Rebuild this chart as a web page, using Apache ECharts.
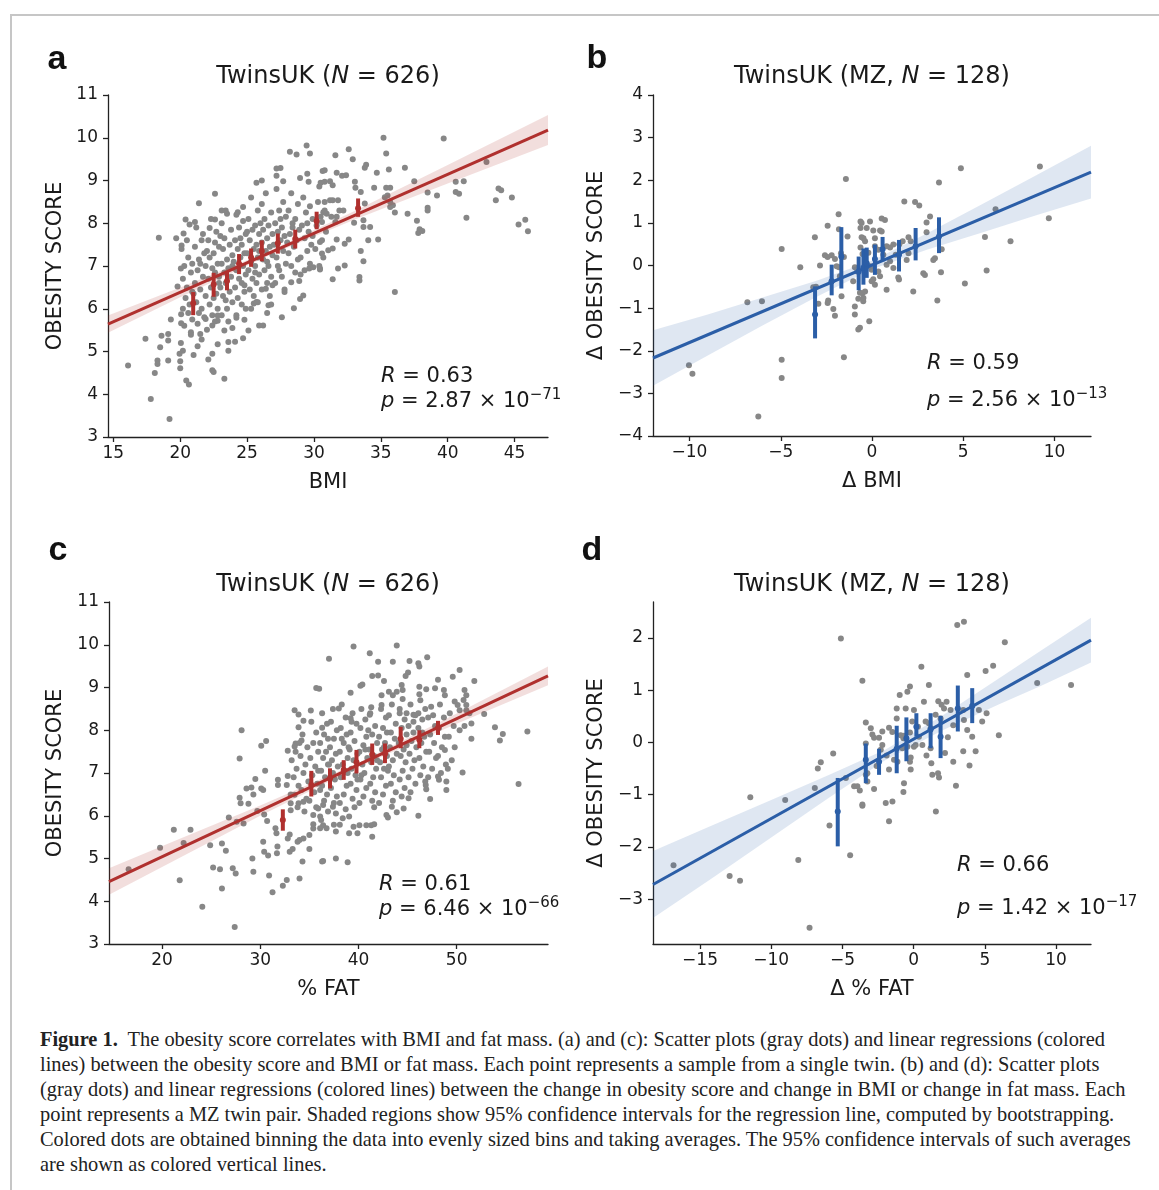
<!DOCTYPE html>
<html>
<head>
<meta charset="utf-8">
<script src="https://cdn.jsdelivr.net/npm/echarts@6/dist/echarts.min.js"></script>
<style>
  html, body { margin: 0; padding: 0; background: #fff; }
  #frame { position: absolute; left: 10px; top: 14px; width: 1149px; height: 1180px;
           border-left: 2px solid #c6c6c6; border-top: 2px solid #c6c6c6; box-sizing: border-box; }
  #chart { position: absolute; left: 0; top: 0; width: 1159px; height: 1010px; }
  #caption { position: absolute; left: 40px; top: 1027px; font-family: "Liberation Serif", serif;
             font-size: 20.4px; line-height: 25px; color: #222; }
  #caption div { white-space: nowrap; }
</style>
</head>
<body>
<div id="frame"></div>
<div id="chart"></div>
<div id="caption">
  <div><b>Figure 1.</b>&nbsp; The obesity score correlates with BMI and fat mass. (a) and (c): Scatter plots (gray dots) and linear regressions (colored</div>
  <div>lines) between the obesity score and BMI or fat mass. Each point represents a sample from a single twin. (b) and (d): Scatter plots</div>
  <div>(gray dots) and linear regressions (colored lines) between the change in obesity score and change in BMI or change in fat mass. Each</div>
  <div>point represents a MZ twin pair. Shaded regions show 95% confidence intervals for the regression line, computed by bootstrapping.</div>
  <div>Colored dots are obtained binning the data into evenly sized bins and taking averages. The 95% confidence intervals of such averages</div>
  <div>are shown as colored vertical lines.</div>
</div>
<script>
// ---------- Panel a: obesity score vs BMI ----------
const pointsA = [
[16.1,4.67],[17.8,3.89],[19.2,3.42],[17.4,5.3],[18.4,7.66],[18.1,4.5],[18.3,4.79],[18.3,4.71],[18.6,5.37],[18.5,5.1],
[19.1,5.41],[19.1,5.26],[19.1,4.79],[19.3,5.75],[19.7,7.65],[19.8,6.52],[20.0,4.77],[20.0,4.61],[19.95,4.95],[20.05,5.2],
[20.07,5.66],[20.07,5.87],[20.05,6.94],[20.2,5.02],[20.45,4.32],[20.65,4.23],[20.4,8.09],[20.25,7.76],[20.1,7.48],[20.7,7.97],
[21.1,8.03],[21.4,8.47],[21.0,4.92],[21.3,5.12],[21.5,5.41],[20.8,5.39],[21.6,5.28],[22.0,5.51],[22.1,4.81],[22.4,4.56],
[22.5,4.52],[22.4,4.95],[22.8,5.17],[23.3,4.36],[23.6,5.22],[23.6,5.02],[24.1,5.23],[22.6,8.69],[23.1,8.3],[23.5,8.22],
[22.6,8.09],[22.2,7.89],[24.3,8.26],[24.7,8.38],[25.7,8.95],[26.1,9.0],[27.2,9.28],[27.5,9.29],[27.2,9.11],[27.7,8.98],
[28.2,9.67],[28.7,9.61],[29.45,9.82],[29.7,9.63],[28.96,9.06],[29.5,9.16],[29.6,8.97],[30.65,9.22],[30.4,8.86],[29.2,6.31],
[28.96,6.23],[28.5,6.01],[27.6,5.8],[26.2,5.61],[25.9,5.61],[25.1,5.49],[24.8,5.74],[24.2,5.79],[23.9,5.55],[24.7,5.31],
[23.3,5.49],[22.8,5.84],[22.8,5.72],[22.4,5.61],[21.9,5.76],[26.5,5.9],[26.6,6.08],[26.8,6.1],[26.4,6.47],[25.5,6.12],
[25.7,6.16],[27.8,6.39],[28.3,6.62],[29.0,6.8],[29.65,6.94],[30.45,6.92],[29.95,6.97],
[35.2,10.0],[39.7,9.98],[32.6,9.73],[31.6,9.59],[32.9,9.5],[35.4,9.63],[33.9,9.37],[33.8,9.3],[30.8,9.24],[31.7,9.18],
[32.1,9.11],[32.4,9.12],[34.7,9.18],[35.6,9.26],[36.8,9.3],[37.5,8.98],[30.5,8.95],[30.8,8.97],[31.2,8.98],[42.9,9.43],
[40.6,8.97],[41.2,8.98],[40.6,8.73],[40.85,8.69],[43.8,8.81],[44.0,8.77],[43.6,8.54],[44.8,8.6],[45.3,7.97],[45.8,8.08],
[46.0,7.81],[41.4,8.13],[39.2,8.65],[38.5,8.72],[38.5,8.36],[38.5,8.3],[37.7,8.06],[37.0,8.22],[37.9,7.86],[37.8,7.77],
[38.1,7.82],[36.05,6.39],[35.4,8.83],[35.7,8.83],[35.5,8.65],[35.3,8.61],[35.7,8.5],[35.9,8.42],[35.7,8.38],[36.05,8.25],
[34.5,8.83],[33.5,8.73],[33.1,8.83],[33.06,8.97],[33.8,8.46],[33.7,8.07],[33.7,7.91],[34.2,7.91],[34.8,7.62],[34.06,7.6],
[33.5,7.35],[33.7,7.11],[33.4,6.74],[33.4,6.66],[33.0,8.01],[31.4,6.69],[31.8,6.94],[32.3,7.01],[31.07,7.37],[31.4,7.41],
[31.7,7.62],[32.3,7.52],[32.6,7.62],[32.2,8.3],[31.9,8.3],[31.7,8.15],[31.6,8.03],[30.7,8.26],[30.95,8.22],[30.6,8.03],
[31.3,8.15],[30.45,7.56],[30.6,7.29],[30.45,6.94],[31.4,8.89],[31.2,8.54],[30.8,8.5],[31.4,8.54],[31.8,8.54],
[20.1,7.4],[20.6,7.2],[20.3,7.0],[20.8,6.85],[20.2,6.7],[20.5,6.5],[20.9,6.4],[20.4,6.25],[20.7,6.1],[20.2,6.0],
[20.6,5.9],[20.9,5.75],[20.3,5.6],[20.8,5.45],[20.5,7.6],[20.9,7.05],
[21.2,7.9],[21.6,7.6],[21.1,7.45],[21.8,7.3],[21.4,7.15],[21.9,7.0],[21.3,6.9],[21.7,6.75],[21.1,6.6],[21.5,6.45],
[21.9,6.3],[21.2,6.15],[21.6,6.0],[21.4,5.9],[21.8,5.8],[21.3,5.65],[21.7,7.75],[21.5,7.05],[21.0,6.35],
[22.3,8.1],[22.7,7.8],[22.1,7.6],[22.9,7.45],[22.5,7.3],[22.2,7.2],[22.8,7.05],[22.4,6.95],[22.6,6.85],[22.1,6.7],
[22.9,6.6],[22.3,6.5],[22.7,6.35],[22.5,6.25],[22.2,6.1],[22.8,6.0],[22.4,5.85],[22.6,5.7],[22.0,7.35],[22.9,6.75],[22.6,7.55],
[23.4,8.3],[23.1,8.0],[23.8,7.85],[23.3,7.65],[23.7,7.5],[23.2,7.4],[23.9,7.25],[23.5,7.15],[23.1,7.05],[23.6,6.95],
[23.3,6.85],[23.8,6.75],[23.4,6.6],[23.0,6.5],[23.7,6.4],[23.2,6.3],[23.9,6.15],[23.5,6.0],[23.1,5.85],[23.6,5.7],
[23.9,7.0],[23.0,7.7],[23.4,6.2],
[24.2,8.2],[24.7,8.05],[24.4,7.9],[24.9,7.75],[24.1,7.6],[24.6,7.5],[24.3,7.4],[24.8,7.3],[24.5,7.2],[24.0,7.1],
[24.7,7.0],[24.2,6.9],[24.9,6.8],[24.4,6.7],[24.6,6.6],[24.1,6.5],[24.8,6.4],[24.3,6.25],[24.6,6.1],[24.9,6.0],
[24.2,5.85],[24.5,7.65],[24.8,6.55],[24.0,6.95],
[25.3,8.6],[25.8,8.3],[25.1,8.1],[25.6,7.95],[25.4,7.85],[25.9,7.75],[25.2,7.6],[25.7,7.5],[25.5,7.4],[25.0,7.3],
[25.8,7.2],[25.3,7.1],[25.6,7.0],[25.1,6.9],[25.9,6.8],[25.4,6.7],[25.7,6.6],[25.2,6.45],[25.5,6.3],[25.8,6.15],
[25.3,6.0],[25.9,7.35],[25.0,7.8],[25.6,6.85],
[26.4,8.7],[26.1,8.45],[26.8,8.25],[26.3,8.1],[26.6,7.95],[26.2,7.85],[26.9,7.75],[26.5,7.65],[26.1,7.55],[26.7,7.45],
[26.4,7.35],[26.9,7.25],[26.2,7.15],[26.6,7.0],[26.3,6.9],[26.8,6.75],[26.5,6.6],[26.1,6.45],[26.7,6.3],[26.0,8.0],
[26.5,7.1],[26.9,6.55],
[27.2,8.8],[27.7,8.5],[27.4,8.3],[27.9,8.15],[27.1,8.0],[27.6,7.9],[27.3,7.8],[27.8,7.7],[27.5,7.6],[27.0,7.5],
[27.7,7.35],[27.2,7.2],[27.9,7.05],[27.4,6.9],[27.6,6.75],[27.1,6.6],[27.8,6.45],[27.5,8.1],[27.3,7.0],
[28.3,8.7],[28.8,8.45],[28.1,8.3],[28.6,8.1],[28.4,8.0],[28.9,7.85],[28.2,7.75],[28.7,7.6],[28.5,7.45],[28.1,7.3],
[28.8,7.15],[28.3,7.0],[28.6,6.85],[28.9,6.65],[28.4,7.9],[28.0,7.55],
[29.2,8.6],[29.7,8.4],[29.4,8.25],[29.9,8.1],[29.1,7.95],[29.6,7.8],[29.3,7.65],[29.8,7.5],[29.5,7.35],[29.0,7.2],
[29.7,7.05],[29.3,6.9],[29.9,7.7],[29.5,8.0],
[30.3,8.5],[30.8,8.3],[30.5,8.15],[30.2,7.95],[30.9,7.8],[30.6,7.6],[30.1,7.4],[30.7,7.2],[30.4,7.0]
];
// binned means: [x, mean, lo95, hi95]
const binsA = [[20.97,6.13,5.85,6.39],[22.5,6.57,6.28,6.84],[23.5,6.65,6.43,6.86],[24.4,7.05,6.81,7.28],[25.3,7.2,6.98,7.41],
  [26.1,7.35,7.11,7.6],[27.3,7.53,7.29,7.76],[28.6,7.63,7.41,7.85],[30.2,8.05,7.86,8.27],[33.3,8.35,8.15,8.58]];
const fitA = [[14.6,5.64],[47.5,10.18]];
const bandAX = [14.6, 20, 26.5, 33, 40, 47.5];
const bandALo = [5.44, 6.27, 7.23, 8.08, 8.93, 9.83];
const bandAHi = [5.84, 6.50, 7.33, 8.28, 9.36, 10.53];

// ---------- Panel b: Δ obesity score vs Δ BMI ----------
const pointsB = [
[-10.03,-2.34],[-9.84,-2.54],[-6.83,-0.86],[-6.03,-0.84],[-6.23,-3.54],[-4.95,0.39],[-4.95,-2.21],[-4.95,-2.64],[-3.93,-0.04],[-3.13,0.66],
[-2.85,0.0],[-2.94,-0.9],[-3.07,-0.5],[-2.43,0.93],[-2.43,0.2],[-2.21,0.24],[-2.03,0.15],[-2.4,-0.82],[-2.43,-0.88],[-2.12,-1.02],
[-2.03,-1.18],[-1.83,1.2],[-1.81,0.85],[-1.7,0.29],[-1.81,-0.04],[-1.67,-0.72],[-1.54,-2.15],[-1.43,2.03],[-1.34,0.68],[-1.54,0.2],
[-1.03,-0.37],[-0.94,-0.96],[-0.94,-1.15],[-0.75,-1.5],[-0.75,-0.78],[-0.63,1.03],[-0.63,0.88],[-0.57,0.66],[-0.63,0.42],[-0.52,0.27],
[-0.94,-0.04],[-0.81,-0.14],[-0.52,-0.65],[-0.48,-0.84],[-2.21,-0.37],[-1.76,-0.25],[-1.94,-0.02],[-2.58,0.24],[-3.22,-0.51],
[4.87,2.28],[3.67,1.95],[9.2,2.32],[9.69,1.11],[6.77,1.32],[6.19,0.67],[7.59,0.57],[6.28,-0.12],[5.09,-0.42],[3.58,-0.82],
[3.78,-0.16],[3.82,0.38],[3.18,1.15],[2.99,1.01],[2.99,0.78],[3.45,0.17],[3.36,0.13],[2.26,-0.61],[2.81,-0.18],[2.9,-0.22],
[1.77,1.5],[2.36,1.49],[2.59,1.41],[2.0,0.66],[1.68,0.57],[1.9,0.13],[2.0,0.29],[1.44,-0.28],[1.48,-0.33],[0.8,-0.57],
[1.17,-0.06],[1.17,0.49],[0.99,0.42],[0.53,1.1],[0.71,1.07],[0.44,0.82],[0.53,0.8],[0.07,0.82],[-0.29,0.88],[-0.11,1.03],
[-0.57,1.0],[0.16,0.64],[0.16,0.45],[0.35,0.37],[0.8,0.45],[0.62,0.25],[-0.11,-0.02],[-0.02,-0.1],[0.35,-0.14],[0.44,-0.25],
[-0.02,-0.37],[0.16,-0.45],[0.07,-0.32],[-0.38,-0.61],[-0.47,-0.76],[-0.66,-0.64],[-0.15,-1.31],[-0.66,-1.46],[-0.47,0.64],[-0.38,0.57],
[-0.2,0.3],[1.5,0.5],[1.3,0.25],[2.12,0.57],[0.99,0.1],[0.8,0.02]
];
const binsB = [[-3.12,-1.15,-1.71,-0.49],[-2.21,-0.37,-0.70,0.02],[-1.68,0.21,-0.54,0.90],[-0.73,-0.14,-0.58,0.21],
  [-0.47,-0.05,-0.45,0.40],[-0.29,0.05,-0.29,0.42],[0.16,0.15,-0.22,0.49],[0.58,0.38,0.10,0.67],[1.48,0.25,-0.14,0.60],
  [2.39,0.45,0.12,0.88],[3.67,0.68,0.29,1.13]];
const fitB = [[-12,-2.17],[12,2.19]];
const bandBX = [-12, -9, -6, -3, 0, 3, 6, 9, 12];
const bandBLo = [-2.82, -2.11, -1.41, -0.73, -0.09, 0.37, 0.77, 1.18, 1.57];
const bandBHi = [-1.52, -1.15, -0.75, -0.35, 0.11, 0.75, 1.43, 2.12, 2.81];

// ---------- Panel c: obesity score vs % fat ----------
const pointsC = [
[16.6,4.75],[19.8,5.25],[21.2,5.67],[22.2,5.36],[22.9,5.67],[21.8,4.49],[24.1,3.87],[24.9,5.31],[25.2,4.79],[25.9,4.75],
[26.1,4.3],[26.1,5.35],[26.5,5.18],[26.8,5.96],[27.2,4.77],[27.5,4.65],[27.4,3.4],[27.6,5.86],[28.3,5.82],[28.1,8.0],
[27.9,7.34],[27.9,6.42],[28.0,6.29],[28.6,6.64],[29.1,6.66],[28.8,6.28],[29.3,6.5],[29.5,6.86],[29.2,5.0],[29.3,4.69],
[30.1,7.64],[30.6,7.75],[30.5,7.05],[30.1,6.64],[30.3,6.6],[29.7,6.11],[30.4,6.03],[30.7,5.88],[30.3,5.39],[30.4,5.16],
[30.8,5.07],[30.9,4.6],[31.25,4.21],[31.7,5.12],[31.75,5.28],[31.55,5.71],[31.65,5.59],[31.8,6.84],[31.8,6.72],[32.3,4.36],
[32.7,4.5],[32.8,6.93],[32.7,6.72],[32.8,7.52],[32.8,5.47],[33.0,5.16],[33.3,5.22],[33.6,7.69],[33.5,7.62],[34.2,7.76],
[33.5,8.47],[33.9,8.37],[33.9,8.07],[34.4,8.22],[34.0,4.53],[34.3,4.93],[33.8,5.39],[34.0,5.43],[34.4,5.47],[33.1,6.29],
[33.1,6.13],[33.0,5.56],[33.5,6.49],[33.9,6.29],[34.4,6.33],[35.0,5.55],[35.0,5.22],[35.7,8.99],[36.0,8.97],[35.15,8.46],
[35.4,6.02],[35.4,5.8],[35.4,5.7],[36.3,8.06],[36.3,4.93],[35.9,6.17],[36.1,5.98],[36.1,5.71],[36.2,5.9],
[39.5,9.96],[43.9,9.98],[37.0,9.67],[41.15,9.8],[42.0,9.6],[43.5,9.6],[45.2,9.62],[46.1,9.57],[46.2,9.49],[47.0,9.71],
[45.05,9.35],[44.8,9.27],[41.4,9.27],[42.0,9.28],[40.4,9.07],[40.2,9.04],[42.6,9.15],[44.4,9.06],[43.9,8.9],[44.5,8.94],
[39.2,8.88],[43.5,8.82],[43.1,8.9],[46.2,9.02],[46.2,8.84],[46.9,8.96],[48.1,9.18],[47.8,8.98],[48.7,8.94],[48.8,8.82],
[49.6,9.25],[50.3,9.41],[51.8,9.15],[50.8,8.94],[50.98,8.82],[50.7,8.71],[50.98,8.59],[49.8,8.67],[50.1,8.59],[50.3,8.47],
[51.3,8.4],[50.98,8.47],[52.8,8.38],[53.9,8.07],[54.7,7.91],[54.4,7.76],[57.2,7.97],[56.3,6.74],[51.5,7.8],[51.5,8.16],
[50.8,8.1],[50.3,8.0],[50.6,7.01],[48.95,6.6],[48.95,6.8],[48.8,7.54],[48.1,6.92],[48.2,6.84],[47.3,6.39],[46.85,6.72],
[46.9,6.62],[46.1,6.0],[45.1,6.41],[44.6,6.17],[43.9,6.08],[43.4,6.21],[42.85,6.02],[43.0,5.96],[41.6,5.8],[41.3,5.78],
[41.4,5.51],[40.8,5.78],[40.1,5.78],[39.9,5.59],[39.05,5.59],[37.7,5.63],[37.5,5.79],[38.1,5.79],[36.4,4.94],[37.7,5.0],
[38.9,4.91],[36.4,5.78],[36.75,5.71],[39.5,5.74],[39.05,5.98],[38.4,5.94],[37.4,6.21],[36.4,6.25],[36.9,6.1],[38.0,8.51],
[39.2,8.28],[39.3,8.2],[41.3,8.54],[41.15,8.36],[42.35,8.82],[42.35,8.59],[44.5,8.73],[44.2,8.4],[44.9,8.4],[45.6,8.36],[46.1,8.4],
[33.2,7.3],[33.7,7.1],[33.4,6.9],[33.9,6.7],[33.1,6.5],[33.6,7.5],[33.8,6.2],
[34.3,7.9],[34.8,7.6],[34.1,7.4],[34.6,7.2],[34.4,7.0],[34.9,6.8],[34.2,6.6],[34.7,6.4],[34.5,6.1],[34.0,7.7],
[35.2,8.2],[35.7,7.95],[35.4,7.7],[35.9,7.5],[35.1,7.35],[35.6,7.15],[35.3,6.95],[35.8,6.75],[35.5,6.55],[35.0,6.35],[35.7,6.2],[35.9,7.05],
[36.3,8.4],[36.8,8.15],[36.5,7.9],[36.1,7.7],[36.7,7.5],[36.4,7.35],[36.9,7.2],[36.2,7.05],[36.6,6.9],[36.3,6.7],[36.8,6.5],[36.5,6.35],[36.1,6.6],[36.9,7.8],
[37.4,8.5],[37.2,8.2],[37.8,8.0],[37.5,7.8],[37.1,7.6],[37.7,7.45],[37.3,7.3],[37.9,7.15],[37.4,7.0],[37.6,6.85],[37.2,6.65],[37.8,6.45],[37.5,6.3],[37.0,7.2],[37.7,6.05],
[38.3,8.6],[38.7,8.3],[38.2,8.05],[38.8,7.9],[38.5,7.7],[38.1,7.5],[38.9,7.35],[38.4,7.2],[38.6,7.05],[38.2,6.9],[38.8,6.7],[38.5,6.5],[38.1,6.3],[38.7,6.15],[38.3,7.8],[38.9,7.0],
[39.4,8.4],[39.8,8.15],[39.2,7.95],[39.6,7.75],[39.1,7.55],[39.9,7.45],[39.5,7.3],[39.3,7.1],[39.7,6.95],[39.2,6.75],[39.8,6.6],[39.4,6.4],[39.6,6.2],[39.0,7.6],[39.9,6.85],
[40.3,8.5],[40.7,8.25],[40.2,8.05],[40.8,7.85],[40.5,7.65],[40.1,7.5],[40.9,7.35],[40.4,7.2],[40.6,7.0],[40.2,6.85],[40.8,6.65],[40.5,6.45],[40.1,6.3],[40.7,7.55],[40.3,6.95],
[41.2,8.4],[41.7,8.1],[41.4,7.9],[41.9,7.7],[41.1,7.55],[41.6,7.4],[41.3,7.25],[41.8,7.1],[41.5,6.9],[41.2,6.75],[41.7,6.55],[41.4,6.35],[41.0,8.0],[41.9,7.3],[41.6,6.2],
[42.3,8.5],[42.8,8.3],[42.5,8.05],[42.1,7.85],[42.7,7.7],[42.4,7.55],[42.9,7.4],[42.2,7.25],[42.6,7.1],[42.3,6.9],[42.8,6.7],[42.5,6.5],[42.1,6.3],[42.9,7.95],[42.6,7.6],
[43.4,8.6],[43.1,8.35],[43.8,8.15],[43.3,7.95],[43.7,7.8],[43.2,7.6],[43.9,7.45],[43.5,7.3],[43.1,7.15],[43.6,6.95],[43.3,6.75],[43.8,6.55],[43.5,6.35],[43.0,7.05],
[44.2,8.5],[44.7,8.25],[44.4,8.05],[44.9,7.9],[44.1,7.7],[44.6,7.55],[44.3,7.4],[44.8,7.25],[44.5,7.05],[44.2,6.85],[44.7,6.65],[44.4,6.45],[44.9,7.65],
[45.3,8.6],[45.8,8.35],[45.1,8.1],[45.6,7.95],[45.4,7.75],[45.9,7.6],[45.2,7.45],[45.7,7.3],[45.5,7.1],[45.1,6.9],[45.8,6.75],[45.3,6.55],[45.6,8.2],
[46.3,8.7],[46.8,8.5],[46.5,8.25],[46.1,8.05],[46.7,7.85],[46.4,7.7],[46.9,7.5],[46.2,7.35],[46.6,7.15],[46.3,6.95],[46.8,6.8],[46.5,7.95],
[47.4,8.55],[47.1,8.3],[47.8,8.1],[47.3,7.9],[47.7,7.7],[47.2,7.5],[47.9,7.35],[47.5,7.1],[47.1,6.9],[47.6,8.35],
[48.3,8.6],[48.7,8.3],[48.2,8.05],[48.8,7.85],[48.5,7.6],[48.1,7.4],[48.9,7.2],[48.4,7.0],
[49.3,8.4],[49.7,8.1],[49.2,7.85],[49.8,7.6],[49.5,7.3],[49.1,7.1]
];
const binsC = [[32.3,5.9,5.65,6.15],[35.2,6.72,6.45,7.05],[37.1,6.87,6.64,7.11],[38.5,7.07,6.84,7.3],[39.8,7.25,6.99,7.54],
  [41.4,7.43,7.19,7.69],[42.7,7.45,7.23,7.69],[44.3,7.8,7.58,8.08],[46.2,7.78,7.58,8.0],[48.1,8.05,7.89,8.22]];
const fitC = [[14.6,4.46],[59.3,9.27]];
const bandCX = [14.6, 22, 30, 40, 50, 59.3];
const bandCLo = [4.15, 5.04, 6.0, 7.14, 8.15, 9.05];
const bandCHi = [4.77, 5.48, 6.24, 7.24, 8.39, 9.49];

// ---------- Panel d: Δ obesity score vs Δ % fat ----------
const pointsD = [
[-16.86,-2.35],[-12.92,-2.56],[-12.19,-2.65],[-11.47,-1.05],[-9.02,-1.1],[-8.1,-2.25],[-7.31,-3.55],[-6.94,-0.87],[-6.73,-0.5],[-6.52,-0.38],
[-5.91,-1.59],[-5.65,-0.21],[-5.11,1.99],[-4.46,-2.16],[-4.76,-0.68],[-4.18,-0.84],[-3.95,-0.84],[-3.78,-0.92],[-3.6,-1.21],[-3.6,1.18],
[-3.36,0.38],[-3.36,-0.02],[-3.36,-0.62],
[3.06,2.25],[3.53,2.31],[6.4,1.92],[0.54,1.45],[5.58,1.47],[5.05,1.37],[3.76,1.29],[8.67,1.14],[11.05,1.1],[-0.26,1.07],
[-0.44,0.97],[-0.98,0.91],[1.07,1.1],[0.72,0.78],[0.02,0.62],[-0.56,0.65],[1.73,0.79],[1.96,0.72],[2.31,0.78],[-1.19,0.65],
[-1.19,0.46],[-3.01,0.27],[-2.9,0.15],[-2.78,0.09],[-2.43,0.09],[-2.2,0.21],[-1.73,0.28],[-1.5,0.2],[-0.91,0.14],[-0.68,0.13],
[-0.26,0.19],[0.37,0.11],[0.14,-0.05],[0.61,-0.05],[0.02,-0.08],[0.84,0.4],[1.07,0.37],[1.19,0.27],[1.54,0.53],[1.89,0.46],
[2.13,0.65],[2.59,0.62],[2.78,0.33],[3.48,0.62],[3.53,0.43],[3.76,0.24],[4.11,0.11],[4.58,0.62],[4.81,0.4],[5.12,0.56],
[5.98,0.14],[4.35,-0.17],[3.92,-0.44],[3.48,-0.17],[2.97,-0.83],[2.78,-0.37],[1.71,-0.59],[1.78,-0.67],[1.31,-0.62],[1.24,-0.4],
[1.19,-0.11],[1.56,-1.32],[-0.21,-0.29],[-0.21,-0.52],[-0.26,-0.37],[-0.68,-0.78],[-0.72,-0.95],[-1.73,-1.51],[-1.96,-1.16],[-1.49,-1.13],
[-2.78,-0.89],[-3.25,-0.75],[-3.25,-0.59],[-3.6,-1.19],[-1.73,-0.52],[-1.14,-0.37],[-1.38,-0.33],[-0.79,-0.11],[-0.44,-0.08],[-0.72,0.08],
[-2.31,-0.14],[-2.2,-0.05],[-1.9,-0.25],[-2.6,-0.45],[0.3,0.3],[-0.1,0.4],[2.4,0.1],[2.2,-0.2],[0.9,-0.25]
];
const binsD = [[-5.33,-1.32,-1.99,-0.68],[-3.36,-0.33,-0.78,-0.02],[-2.43,-0.37,-0.62,-0.12],[-1.19,-0.12,-0.59,0.32],
  [-0.51,0.08,-0.36,0.48],[0.19,0.3,0.11,0.56],[1.19,0.25,-0.11,0.56],[1.89,0.11,-0.30,0.51],[3.1,0.65,0.21,1.09],[4.11,0.7,0.37,1.04]];
const fitD = [[-18.3,-2.72],[12.45,1.96]];
const bandDX = [-18.3, -14, -10, -6, -2, 2, 6, 9, 12.45];
const bandDLo = [-3.36, -2.57, -1.82, -1.07, -0.34, 0.23, 0.73, 1.09, 1.53];
const bandDHi = [-2.08, -1.57, -1.10, -0.63, -0.14, 0.51, 1.23, 1.77, 2.39];

// ---------- tick labels ----------
const xTicksA = [15, 20, 25, 30, 35, 40, 45];
const yTicksA = [3, 4, 5, 6, 7, 8, 9, 10, 11];
const xTicksB = [-10, -5, 0, 5, 10];
const yTicksB = [-4, -3, -2, -1, 0, 1, 2, 3, 4];
const xTicksC = [20, 30, 40, 50];
const yTicksC = [3, 4, 5, 6, 7, 8, 9, 10, 11];
const xTicksD = [-15, -10, -5, 0, 5, 10];
const yTicksD = [-3, -2, -1, 0, 1, 2];

const RED = '#b0302e', BLUE = '#2b5ea7', GRAY = '#878787';
const FONT = '"DejaVu Sans", sans-serif';
const TXT = '#1a1a1a';

const chart = echarts.init(document.getElementById('chart'), null, { renderer: 'canvas' });

const fmt = v => String(v).replace('-', '\u2212');
function xAxisCfg(gi, min, max, ticks, name) {
  return {
    type: 'value', gridIndex: gi, min, max, name, nameLocation: 'middle', nameGap: 35,
    nameTextStyle: { fontFamily: FONT, fontSize: 21, color: TXT },
    splitLine: { show: false },
    axisLine: { onZero: false, lineStyle: { color: '#222', width: 1.3 } },
    axisTick: { customValues: ticks, length: 5, lineStyle: { color: '#222', width: 1.3 } },
    axisLabel: { customValues: ticks, formatter: fmt, fontFamily: FONT, fontSize: 17, color: TXT, margin: 8 }
  };
}
function yAxisCfg(gi, min, max, ticks, name, gap) {
  return {
    type: 'value', gridIndex: gi, min, max, name, nameLocation: 'middle', nameGap: gap,
    nameTextStyle: { fontFamily: FONT, fontSize: 21, color: TXT },
    splitLine: { show: false },
    axisLine: { show: true, onZero: false, lineStyle: { color: '#222', width: 1.3 } },
    axisTick: { show: true, customValues: ticks, length: 5, lineStyle: { color: '#222', width: 1.3 } },
    axisLabel: { customValues: ticks, formatter: fmt, fontFamily: FONT, fontSize: 17, color: TXT, margin: 10 }
  };
}
function bandSeries(i, xs, lo, hi, color) {
  return {
    type: 'custom', xAxisIndex: i, yAxisIndex: i, z: 2, silent: true,
    data: xs.map((x, k) => [x, lo[k], hi[k]]),
    encode: { x: 0, y: [1, 2] },
    renderItem: function (params, api) {
      if (params.dataIndex !== 0) return null;
      const pts = [];
      for (let k = 0; k < xs.length; k++) pts.push(api.coord([xs[k], hi[k]]));
      for (let k = xs.length - 1; k >= 0; k--) pts.push(api.coord([xs[k], lo[k]]));
      return { type: 'polygon', shape: { points: pts }, style: { fill: color } };
    }
  };
}
function binSeries(i, bins, color) {
  return {
    type: 'custom', xAxisIndex: i, yAxisIndex: i, z: 5, silent: true,
    data: bins, encode: { x: 0, y: [1, 2, 3] },
    renderItem: function (params, api) {
      const x = api.value(0), m = api.value(1), lo = api.value(2), hi = api.value(3);
      const a = api.coord([x, lo]), b = api.coord([x, hi]), c = api.coord([x, m]);
      return { type: 'group', children: [
        { type: 'line', shape: { x1: a[0], y1: a[1], x2: b[0], y2: b[1] }, style: { stroke: color, lineWidth: 4 } },
        { type: 'circle', shape: { cx: c[0], cy: c[1], r: 3 }, style: { fill: color } }
      ]};
    }
  };
}
function scatterSeries(i, pts) {
  return { type: 'scatter', xAxisIndex: i, yAxisIndex: i, z: 1, silent: true, data: pts,
    symbolSize: 6, itemStyle: { color: GRAY, opacity: 1 } };
}
function fitSeries(i, pts, color) {
  return { type: 'line', xAxisIndex: i, yAxisIndex: i, z: 4, silent: true, data: pts, symbol: 'none',
    lineStyle: { color, width: 3 } };
}

function title(x, y, body) {
  return { type: 'text', x, y, z: 10, style: {
    text: body, align: 'center', verticalAlign: 'middle', fill: TXT,
    font: '24px ' + FONT,
    rich: { n: { fontFamily: FONT, fontSize: 24, fill: TXT, color: TXT },
            i: { fontFamily: FONT, fontSize: 24, fontStyle: 'italic', fill: TXT, color: TXT } }
  }};
}
function letter(x, y, t) {
  return { type: 'text', x, y, z: 10, style: { text: t, align: 'center', verticalAlign: 'middle',
    fill: '#111', font: 'bold 34px "Liberation Sans", sans-serif' } };
}
const annRich = {
  n: { fontFamily: FONT, fontSize: 21, color: TXT, verticalAlign: 'bottom' },
  i: { fontFamily: FONT, fontSize: 21, fontStyle: 'italic', color: TXT, verticalAlign: 'bottom' },
  s: { fontFamily: FONT, fontSize: 15, color: TXT, verticalAlign: 'bottom', padding: [0, 0, 9, 0] }
};
function annR(x, y, val) {
  return { type: 'text', x, y, z: 10, style: { text: '{i|R}{n| = ' + val + '}', align: 'left', verticalAlign: 'middle',
    fill: TXT, font: '21px ' + FONT, rich: annRich } };
}
function annP(x, y, mant, exp) {
  return { type: 'text', x, y, z: 10, style: { text: '{i|p}{n| = ' + mant + ' \u00d7 10}{s|\u2212' + exp + '}',
    align: 'left', verticalAlign: 'bottom', fill: TXT, font: '21px ' + FONT, rich: annRich } };
}

const option = {
  animation: false,
  backgroundColor: 'transparent',
  grid: [
    { left: 108, top: 95, width: 440, height: 342 },
    { left: 653, top: 95, width: 438, height: 341 },
    { left: 109, top: 602, width: 439, height: 342 },
    { left: 653, top: 602, width: 438, height: 342 }
  ],
  xAxis: [
    xAxisCfg(0, 14.6, 47.5, xTicksA, 'BMI'),
    xAxisCfg(1, -12, 12, xTicksB, '\u0394 BMI'),
    xAxisCfg(2, 14.6, 59.3, xTicksC, '% FAT'),
    xAxisCfg(3, -18.3, 12.45, xTicksD, '\u0394 % FAT')
  ],
  yAxis: [
    yAxisCfg(0, 3, 11, yTicksA, 'OBESITY SCORE', 42),
    yAxisCfg(1, -4, 4, yTicksB, '\u0394 OBESITY SCORE', 46),
    yAxisCfg(2, 3, 11, yTicksC, 'OBESITY SCORE', 43),
    yAxisCfg(3, -3.86, 2.69, yTicksD, '\u0394 OBESITY SCORE', 46)
  ],
  series: [
    scatterSeries(0, pointsA), bandSeries(0, bandAX, bandALo, bandAHi, 'rgba(176,48,46,0.16)'),
    fitSeries(0, fitA, RED), binSeries(0, binsA, RED),
    scatterSeries(1, pointsB), bandSeries(1, bandBX, bandBLo, bandBHi, 'rgba(43,94,167,0.15)'),
    fitSeries(1, fitB, BLUE), binSeries(1, binsB, BLUE),
    scatterSeries(2, pointsC), bandSeries(2, bandCX, bandCLo, bandCHi, 'rgba(176,48,46,0.16)'),
    fitSeries(2, fitC, RED), binSeries(2, binsC, RED),
    scatterSeries(3, pointsD), bandSeries(3, bandDX, bandDLo, bandDHi, 'rgba(43,94,167,0.15)'),
    fitSeries(3, fitD, BLUE), binSeries(3, binsD, BLUE)
  ],
  graphic: [
    letter(57, 60, 'a'), letter(597, 59, 'b'), letter(58, 551, 'c'), letter(592, 551, 'd'),
    title(328, 77, '{n|TwinsUK (}{i|N}{n| = 626)}'),
    title(872, 77, '{n|TwinsUK (MZ, }{i|N}{n| = 128)}'),
    title(328, 585, '{n|TwinsUK (}{i|N}{n| = 626)}'),
    title(872, 585, '{n|TwinsUK (MZ, }{i|N}{n| = 128)}'),
    annR(381, 377, '0.63'), annP(381, 412, '2.87', '71'),
    annR(927, 364, '0.59'), annP(927, 411, '2.56', '13'),
    annR(379, 885, '0.61'), annP(379, 920, '6.46', '66'),
    annR(957, 866, '0.66'), annP(957, 919, '1.42', '17')
  ]
};
chart.setOption(option);
</script>
</body>
</html>
